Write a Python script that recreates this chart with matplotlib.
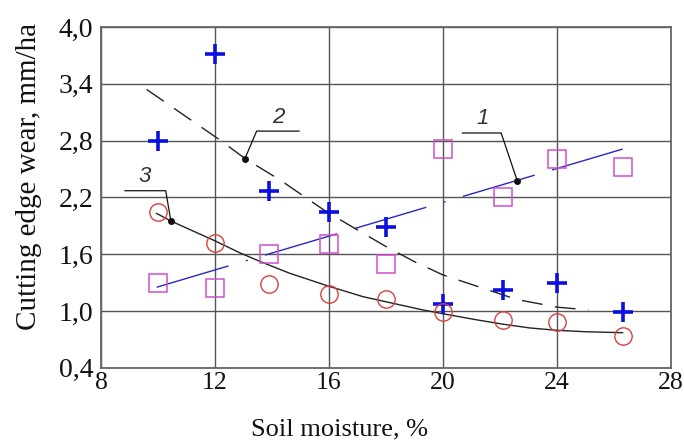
import numpy as np
import matplotlib
matplotlib.use("Agg")
import matplotlib.pyplot as plt
from matplotlib.ticker import FuncFormatter

# Soil moisture values of the measurements, %
moisture = [10, 12, 13.9, 16, 18, 20, 22.1, 24, 26.3]

# Cutting edge wear, mm/ha
wear_plus = [2.80, 3.71, 2.27, 2.05, 1.89, 1.07, 1.22, 1.29, 0.99]
wear_square = [1.29, 1.24, 1.60, 1.71, 1.50, 2.71, 2.20, 2.60, 2.52]
wear_circle = [2.05, 1.72, 1.28, 1.18, 1.13, 0.99, 0.90, 0.88, 0.73]

# Trend lines
trend1_x = [9.95, 26.3]
trend1_y = [1.25, 2.71]
trend2_x = [9.6, 12.2, 13.05, 14.3, 15.9, 17.2, 18.0, 19.0, 20.0, 21.3, 22.6, 24.0, 25.1]
trend2_y = [3.34, 2.80, 2.61, 2.38, 2.05, 1.82, 1.68, 1.52, 1.38, 1.25, 1.12, 1.04, 1.01]
trend3_x = [9.95, 10.45, 12.0, 12.9, 13.6, 14.6, 16.0, 17.2, 18.4, 19.3, 20.0, 21.1, 22.1, 23.05, 24.0, 25.0, 26.3]
trend3_y = [2.03, 1.95, 1.74, 1.61, 1.52, 1.40, 1.26, 1.15, 1.07, 1.01, 0.97, 0.91, 0.86, 0.82, 0.795, 0.78, 0.77]

# Curve labels: text, text position, leader (dot -> bend -> shelf end)
label_text = ["1", "2", "3"]
label_pos = [(21.39, 3.03), (14.21, 3.04), (9.54, 2.42)]
leader_x = [[22.61, 22.04, 20.68], [13.05, 13.46, 14.95], [10.45, 10.27, 8.84]]
leader_y = [[2.37, 2.88, 2.88], [2.61, 2.90, 2.90], [1.95, 2.27, 2.27]]

x_ticks = [8, 12, 16, 20, 24, 28]
y_ticks = [0.4, 1.0, 1.6, 2.2, 2.8, 3.4, 4.0]

serif = "Liberation Serif"

fig = plt.figure(figsize=(6.84, 4.41), dpi=100)
ax = fig.add_axes([0.1477, 0.1662, 0.8333, 0.7726])

# trend lines
ax.plot(trend1_x, trend1_y, color="#2828c0", lw=1.0,
        dashes=(54, 13, 1.5, 13, 54, 13), zorder=3)
ax.plot(trend2_x, trend2_y, color="#222222", lw=1.0, dashes=(15, 9), zorder=3)
ax.plot(trend3_x, trend3_y, color="#222222", lw=1.0, zorder=3)

# measurements
ax.plot(moisture, wear_plus, ls="none", marker="+", ms=15, mew=2.6,
        color="#0a10e0", zorder=4)
ax.plot(moisture, wear_square, ls="none", marker="s", ms=13, mew=1.1,
        mfc="none", mec="#d050d0", zorder=4)
ax.plot(moisture, wear_circle, ls="none", marker="o", ms=12.5, mew=1.0,
        mfc="none", mec="#d84040", zorder=4)

# curve labels with leaders
for txt, pos, lx, ly in zip(label_text, label_pos, leader_x, leader_y):
    ax.plot(lx, ly, color="#111111", lw=0.9, zorder=5)
    ax.plot(lx[0], ly[0], marker="o", ms=4, color="#111111", zorder=6)
    ax.text(pos[0], pos[1], txt, ha="center", va="center", fontsize=16,
            style="italic", family="Liberation Sans", color="#333333", zorder=6)

ax.set_xlim(8, 28)
ax.set_ylim(0.4, 4.0)
ax.set_xticks(x_ticks)
ax.set_yticks(y_ticks)
ax.yaxis.set_major_formatter(FuncFormatter(lambda v, p: f"{v:.1f}".replace(".", ",")))
ax.tick_params(length=0, colors="#111111")
ax.tick_params(axis="x", pad=3, labelsize=18.5)
ax.tick_params(axis="y", pad=5.5, labelsize=20)
for lab in ax.get_xticklabels() + ax.get_yticklabels():
    lab.set_family(serif)

ax.grid(True, color="#555555", lw=1.0)
ax.set_axisbelow(True)
for sp in ax.spines.values():
    sp.set_color("#666666")
    sp.set_linewidth(1.3)

fig.text(0.497, 0.0136, "Soil moisture, %", ha="center", va="baseline",
         fontsize=19, family=serif, color="#111111")
fig.text(0.0424, 0.60, "Cutting edge wear, mm/ha", ha="center", va="center",
         rotation=90, fontsize=21, family=serif, color="#111111")

fig.savefig("out.png", dpi=100)
